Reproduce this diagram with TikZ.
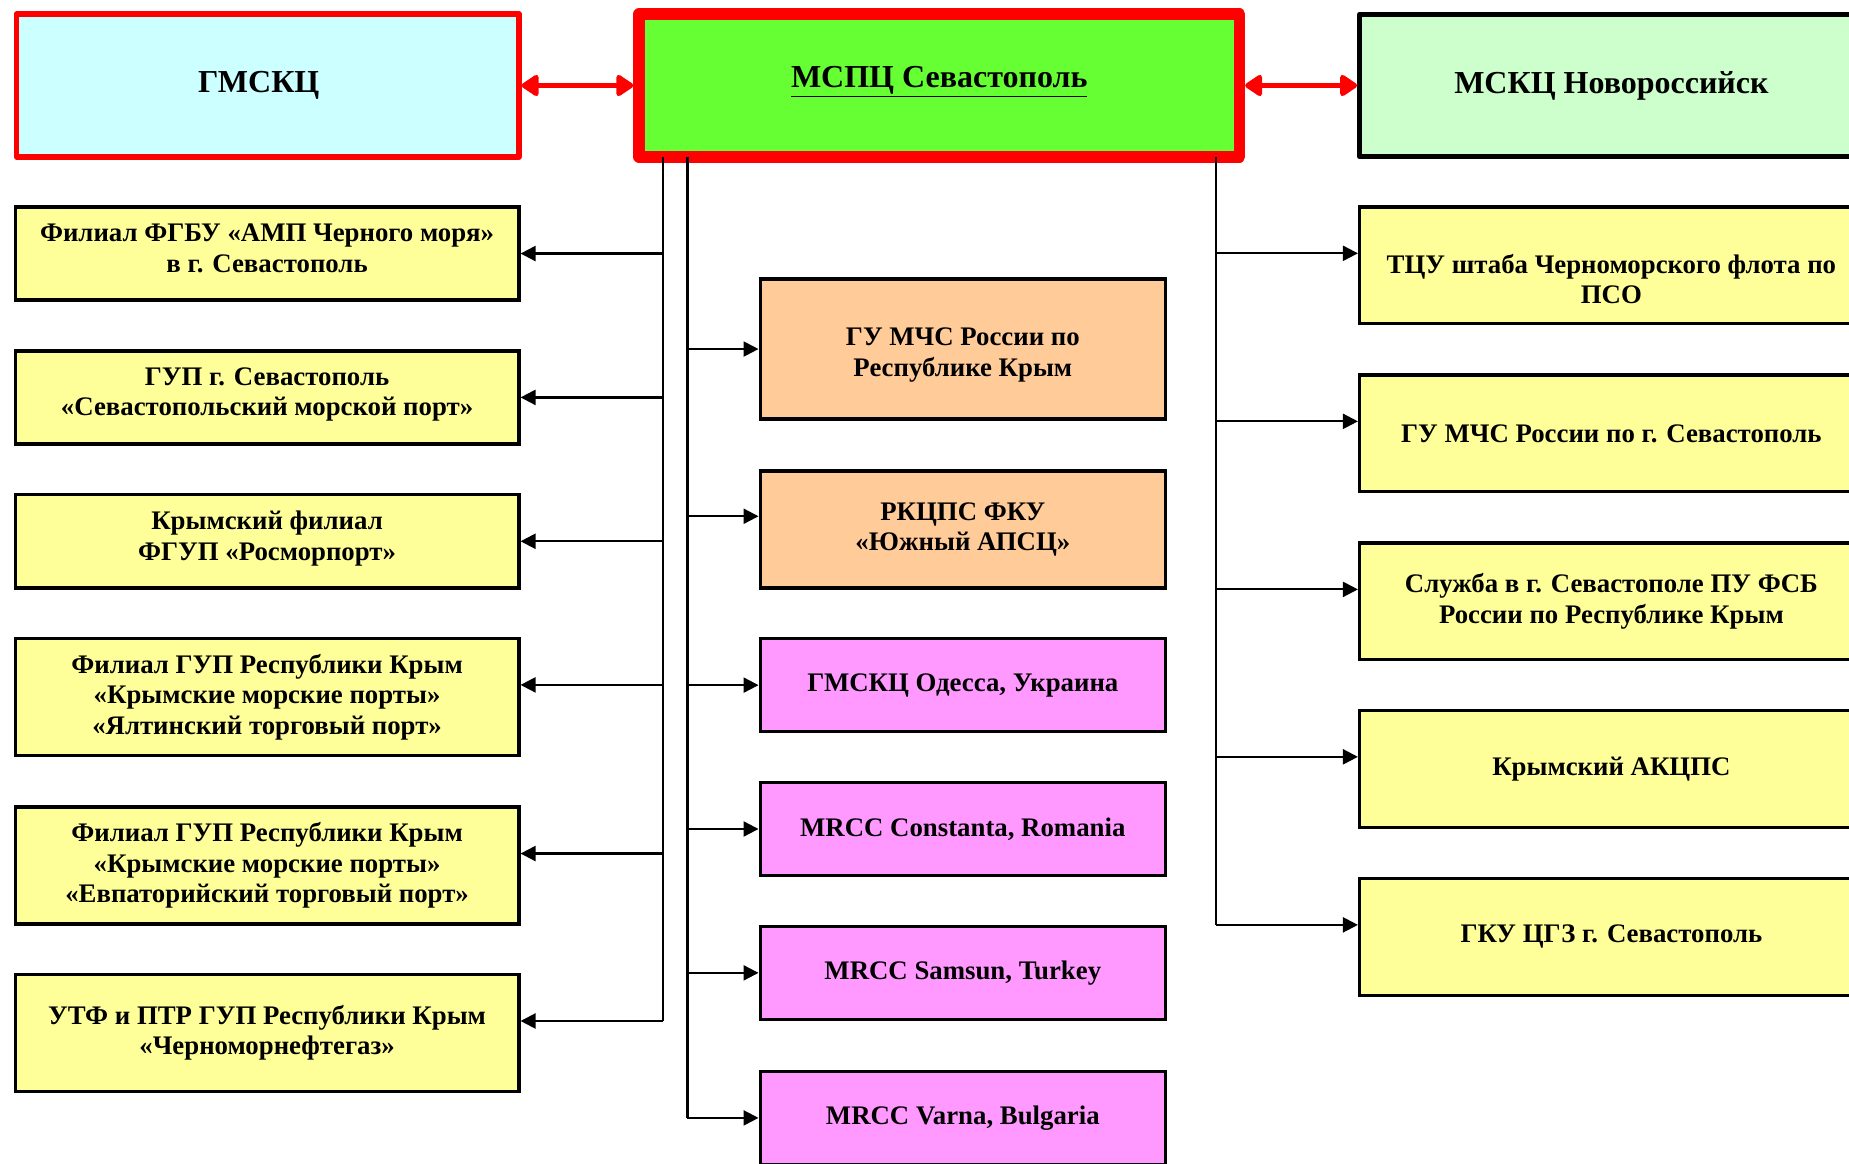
\documentclass[tikz,border=0pt]{standalone}
\usepackage{fontspec}
\setmainfont{Liberation Serif}
\usetikzlibrary{arrows.meta,calc}
\definecolor{ccyan}{HTML}{CCFFFF}
\definecolor{cgreen}{HTML}{66FF33}
\definecolor{clgreen}{HTML}{CCFFCC}
\definecolor{cyel}{HTML}{FFFF99}
\definecolor{corange}{HTML}{FFCC99}
\definecolor{cpink}{HTML}{FF99FF}
\definecolor{cred}{HTML}{FF0000}
\def\pxu{0.58965pt}
\def\updepth{\rule[-5.5pt]{0pt}{0pt}}
\tikzset{
  box/.style={draw=black, rectangle, line width=1.7pt, align=center, inner sep=2pt,
    font=\bfseries\fontsize{13.4}{15.2}\selectfont},
  hdr/.style={rectangle, align=center, inner sep=2pt, line join=round,
    minimum height={121*\pxu}, font=\bfseries\fontsize{16}{19}\selectfont},
  lbox/.style={box, fill=cyel, minimum width={427*\pxu}},
  rbox/.style={box, fill=cyel, minimum width={427*\pxu}, minimum height={99*\pxu}},
  cbox/.style={box, minimum width={343.6*\pxu}},
  small/.style={minimum height={79*\pxu}},
  tall/.style={minimum height={99*\pxu}},
  conn/.style={draw=black, line width=1.1pt},
  arr/.style={conn, -{Triangle[length=7.5pt,width=7.5pt]}},
  redarr/.style={draw=cred, line width=2.8pt,
    {Triangle[length=9.5pt,width=12pt,round]}-{Triangle[length=9.5pt,width=12pt,round]}}
}
\begin{document}
\begin{tikzpicture}[x=\pxu,y=-\pxu]
\useasboundingbox (0,0) rectangle (1568,987);
\clip (0,0) rectangle (1568,987);
% header
\node[hdr, draw=cred, line width=2.8pt, fill=ccyan, minimum width={426*\pxu}] (gmsk) at (227,72.5) {ГМСКЦ\hspace*{9pt}};
\node[hdr, draw=cred, line width=5.8pt, fill=cgreen, minimum width={509*\pxu}, text depth=9pt] (mspc) at (796.5,72.5) {\underline{МСПЦ Севастополь}};
\node[hdr, draw=black, line width=2.5pt, fill=clgreen, minimum width={427*\pxu}] (msk) at (1366.5,72.5) {МСКЦ Новороссийск};
\draw[redarr] (gmsk) -- (mspc);
\draw[redarr] (mspc) -- (msk);
% left column
\node[lbox, small] (l1) at (226.5,215) {Филиал ФГБУ «АМП Черного моря»\\в г. Севастополь\updepth};
\node[lbox, small] (l2) at (226.5,337) {ГУП г. Севастополь\\«Севастопольский морской порт»\updepth};
\node[lbox, small] (l3) at (226.5,459) {Крымский филиал\\ФГУП «Росморпорт»\updepth};
\node[lbox, tall] (l4) at (226.5,591) {Филиал ГУП Республики Крым\\«Крымские морские порты»\\«Ялтинский торговый порт»};
\node[lbox, tall] (l5) at (226.5,734) {Филиал ГУП Республики Крым\\«Крымские морские порты»\\«Евпаторийский торговый порт»};
\node[lbox, tall] (l6) at (226.5,876) {УТФ и ПТР ГУП Республики Крым\\«Черноморнефтегаз»};
% centre column
\node[cbox, fill=corange, minimum height={118.6*\pxu}] (c1) at (816.5,296) {\rule{0pt}{15pt}ГУ МЧС России по\\Республике Крым};
\node[cbox, fill=corange, tall] (c2) at (816.5,449) {РКЦПС ФКУ\\«Южный АПСЦ»};
\node[cbox, fill=cpink, small] (c3) at (816.5,581) {ГМСКЦ Одесса, Украина};
\node[cbox, fill=cpink, small] (c4) at (816.5,703) {MRCC Constanta, Romania};
\node[cbox, fill=cpink, small] (c5) at (816.5,825) {MRCC Samsun, Turkey};
\node[cbox, fill=cpink, small] (c6) at (816.5,948) {MRCC Varna, Bulgaria};
% right column
\node[rbox] (r1) at (1366.5,225) {\rule{0pt}{23pt}ТЦУ штаба Черноморского флота по\\ПСО};
\node[rbox] (r2) at (1366.5,367.5) {ГУ МЧС России по г. Севастополь};
\node[rbox] (r3) at (1366.5,510) {Служба в г. Севастополе ПУ ФСБ\\России по Республике Крым};
\node[rbox] (r4) at (1366.5,652) {Крымский АКЦПС};
\node[rbox] (r5) at (1366.5,794.5) {ГКУ ЦГЗ г. Севастополь};
% trunks
\coordinate (tL) at (562,0);
\coordinate (tC) at (583,0);
\coordinate (tR) at (1031,0);
\coordinate (a1) at ($(l1.north east)!0.5!(l1.south east)$);
\coordinate (a2) at ($(l2.north east)!0.5!(l2.south east)$);
\coordinate (a3) at ($(l3.north east)!0.5!(l3.south east)$);
\coordinate (a4) at ($(l4.north east)!0.4!(l4.south east)$);
\coordinate (a5) at ($(l5.north east)!0.4!(l5.south east)$);
\coordinate (a6) at ($(l6.north east)!0.4!(l6.south east)$);
\draw[conn] ($(tL |- mspc.south)+(0,2.9pt)$) -- (tL |- a6);
\foreach \i in {1,...,6} { \draw[arr] (tL |- a\i) -- (a\i); }
\coordinate (b1) at ($(c1.north west)!0.5!(c1.south west)$);
\coordinate (b2) at ($(c2.north west)!0.39!(c2.south west)$);
\coordinate (b3) at ($(c3.north west)!0.5!(c3.south west)$);
\coordinate (b4) at ($(c4.north west)!0.5!(c4.south west)$);
\coordinate (b5) at ($(c5.north west)!0.5!(c5.south west)$);
\coordinate (b6) at ($(c6.north west)!0.5!(c6.south west)$);
\draw[conn] ($(tC |- mspc.south)+(0,2.9pt)$) -- (tC |- b6);
\foreach \i in {1,...,6} { \draw[arr] (tC |- b\i) -- (b\i); }
\coordinate (d1) at ($(r1.north west)!0.4!(r1.south west)$);
\coordinate (d2) at ($(r2.north west)!0.4!(r2.south west)$);
\coordinate (d3) at ($(r3.north west)!0.4!(r3.south west)$);
\coordinate (d4) at ($(r4.north west)!0.4!(r4.south west)$);
\coordinate (d5) at ($(r5.north west)!0.4!(r5.south west)$);
\draw[conn] ($(tR |- mspc.south)+(0,2.9pt)$) -- (tR |- d5);
\foreach \i in {1,...,5} { \draw[arr] (tR |- d\i) -- (d\i); }
\end{tikzpicture}
\end{document}
